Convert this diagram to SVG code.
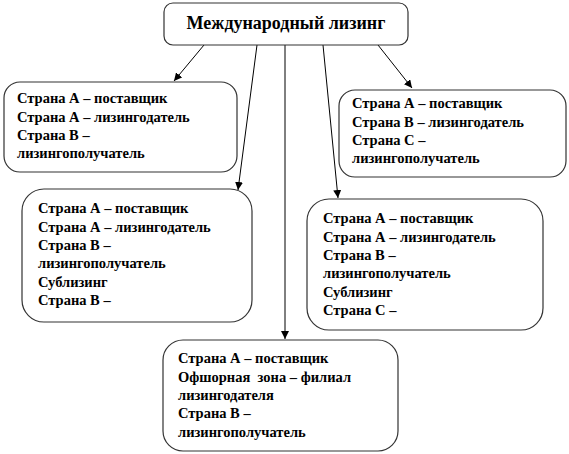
<svg xmlns="http://www.w3.org/2000/svg" width="569" height="454" viewBox="0 0 569 454">
<defs>
<marker id="arr" viewBox="0 0 10 10" refX="10" refY="5" markerWidth="8" markerHeight="8" markerUnits="userSpaceOnUse" orient="auto">
<path d="M0,0 L10,5 L0,10 z" fill="#000"/>
</marker>
<style>
.box{fill:#fff;stroke:#333;stroke-width:1.2}
.c{stroke:#000;stroke-width:1;fill:none;marker-end:url(#arr)}
</style>
</defs>
<rect width="569" height="454" fill="#fff"/>
<g id="connectors">
<line class="c" x1="204" y1="45" x2="174" y2="81"/>
<line class="c" x1="257" y1="45" x2="238" y2="190"/>
<line class="c" x1="285" y1="45" x2="285" y2="339"/>
<line class="c" x1="323" y1="45" x2="338" y2="198"/>
<line class="c" x1="378" y1="45" x2="412" y2="88"/>
</g>
<g font-family="Liberation Serif, DejaVu Serif, serif" font-weight="bold" fill="#000">
<g id="root">
<rect class="box" x="164" y="3" width="244" height="42" rx="9"/>
<text font-size="18" x="286" y="29" text-anchor="middle">Международный лизинг</text>
</g>
<g id="n1" font-size="14.5">
<rect class="box" x="4" y="82" width="233" height="90" rx="16"/>
<text x="17" y="103">Страна А – поставщик</text>
<text x="17" y="122">Страна А – лизингодатель</text>
<text x="17" y="140">Страна В –</text>
<text x="17" y="158">лизингополучатель</text>
</g>
<g id="n2" font-size="14.5">
<rect class="box" x="339" y="90" width="227" height="87" rx="16"/>
<text x="352" y="108">Страна А – поставщик</text>
<text x="352" y="127">Страна В – лизингодатель</text>
<text x="352" y="145">Страна С –</text>
<text x="352" y="163">лизингополучатель</text>
</g>
<g id="n3" font-size="14.5">
<rect class="box" x="22" y="189" width="230" height="133" rx="22"/>
<text x="38" y="213">Страна А – поставщик</text>
<text x="38" y="232">Страна А – лизингодатель</text>
<text x="38" y="250">Страна В –</text>
<text x="38" y="268">лизингополучатель</text>
<text x="38" y="287">Сублизинг</text>
<text x="38" y="305">Страна В –</text>
</g>
<g id="n4" font-size="14.5">
<rect class="box" x="307" y="199" width="236" height="131" rx="22"/>
<text x="323" y="223">Страна А – поставщик</text>
<text x="323" y="242">Страна А – лизингодатель</text>
<text x="323" y="260">Страна В –</text>
<text x="323" y="278">лизингополучатель</text>
<text x="323" y="297">Сублизинг</text>
<text x="323" y="315">Страна С –</text>
</g>
<g id="n5" font-size="14.5">
<rect class="box" x="163" y="340" width="235" height="111" rx="20"/>
<text x="178" y="363">Страна А – поставщик</text>
<text x="178" y="382" xml:space="preserve">Офшорная  зона – филиал</text>
<text x="178" y="400">лизингодателя</text>
<text x="178" y="418">Страна В –</text>
<text x="178" y="437">лизингополучатель</text>
</g>
</g>
</svg>
